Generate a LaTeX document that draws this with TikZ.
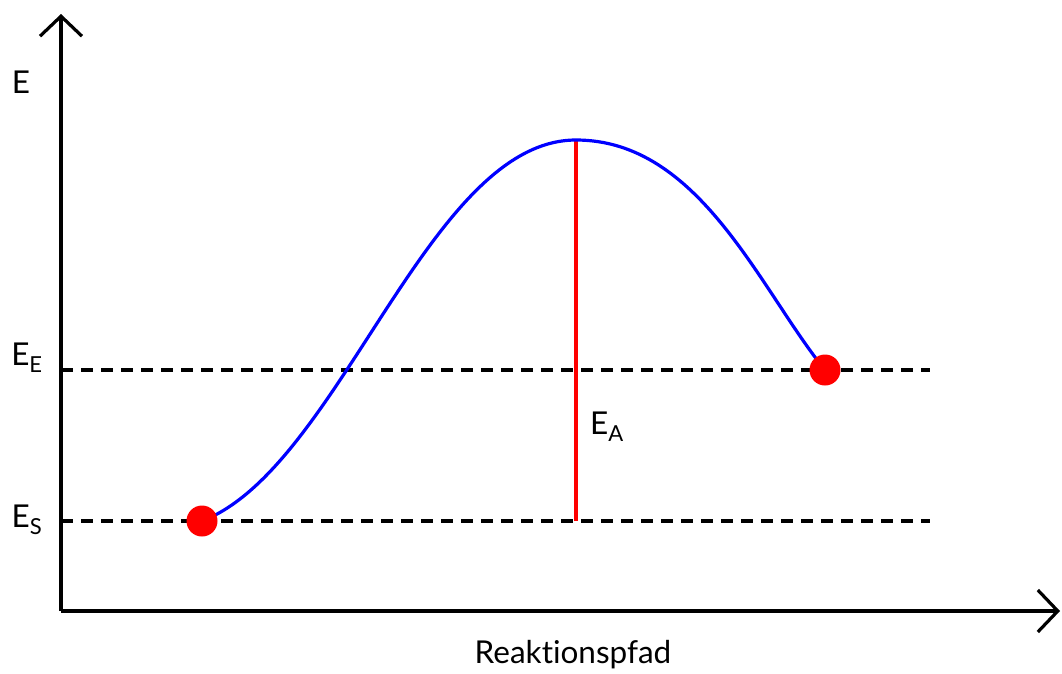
\documentclass[tikz,border=0pt]{standalone}
\usepackage{fontspec}
\setmainfont{Lato}[Ligatures={NoCommon,NoDiscretionary}]
\usetikzlibrary{arrows.meta}
\begin{document}
\begin{tikzpicture}[x=1pt,y=-1pt,
  axis/.style={line width=3.2pt,-{Straight Barb[length=20pt,width=42pt,line width=3.2pt]}},
  level/.style={line width=3.2pt,dash pattern=on 12pt off 8pt},
  dot/.style={circle,fill=red,inner sep=0pt,minimum size=31pt},
  lbl/.style={font=\fontsize{31.5}{36}\selectfont,inner sep=0pt}]
\useasboundingbox (0,0) rectangle (1062,673);
\coordinate (O) at (61,611);
\coordinate (ytip) at (61,14);
\coordinate (xtip) at (1060,611);
\draw[axis] (O) -- (ytip);
\draw[axis] (O) -- (xtip);
\coordinate (eeL) at (61,370);
\coordinate (eeR) at (930,370);
\coordinate (esL) at (61,521);
\coordinate (esR) at (930,521);
\draw[level] (eeL) -- (eeR);
\draw[level] (esL) -- (esR);
\coordinate (peak) at (576,140);
\coordinate (base) at (576,521);
\draw[red,line width=3.2pt] (peak) -- (base);
\coordinate (s) at (202,521);
\coordinate (e) at (825,370);
\draw[blue,line width=3.2pt] (s) .. controls (340,468) and (428,140) .. (peak) .. controls (700,140) and (760,290) .. (e);
\node[dot] (sd) at (s) {};
\node[dot] (ed) at (e) {};
\node[lbl] (Elab) at (21,82) {E};
\node[lbl] (EE) at (27,358) {E\textsubscript{E}};
\node[lbl] (ES) at (27,520) {E\textsubscript{S}};
\node[lbl] (EA) at (607,427) {E\textsubscript{A}};
\node[lbl] (rp) at (573,655) {Reaktionspfad};
\end{tikzpicture}
\end{document}
